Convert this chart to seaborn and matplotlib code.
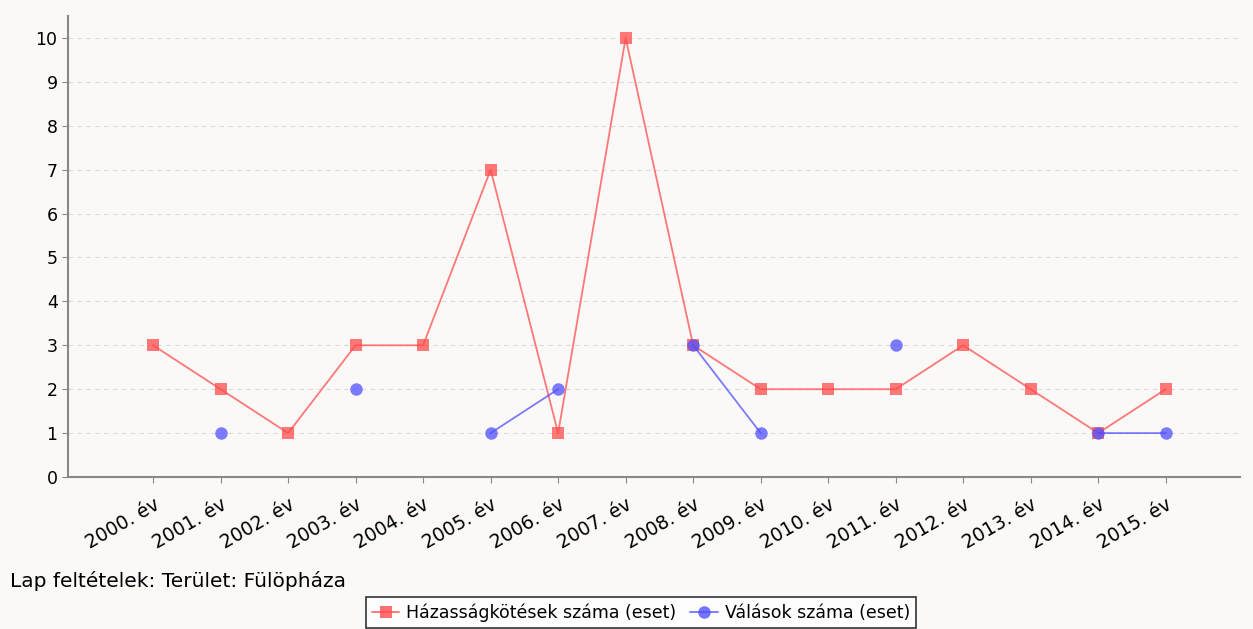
import numpy as np
import pandas as pd
import matplotlib
matplotlib.use("Agg")
import matplotlib.pyplot as plt
import seaborn as sns
from matplotlib.lines import Line2D

years = [f"{y}. év" for y in range(2000, 2016)]
hazassag = [3, 2, 1, 3, 3, 7, 1, 10, 3, 2, 2, 2, 3, 2, 1, 2]
valas = [np.nan, 1, np.nan, 2, np.nan, 1, 2, np.nan, 3, 1, np.nan, 3, np.nan, np.nan, 1, 1]
series_names = ["Házasságkötések száma (eset)", "Válások száma (eset)"]

sns.set_style("white")
plt.rcParams['font.family'] = ['DejaVu Sans']
plt.rcParams['text.color'] = 'black'
plt.rcParams['xtick.color'] = 'black'
plt.rcParams['ytick.color'] = 'black'

bg = "#faf9f8"
fig = plt.figure(figsize=(12.53, 6.29), dpi=100, facecolor=bg)
ax = fig.add_axes([68/1253, 1-477/629, (1240-68)/1253, (477-16)/629])
ax.set_facecolor(bg)

x = np.arange(len(years))
red = "#ff4c4c"
blue = "#5050ff"
sns.lineplot(x=x, y=hazassag, ax=ax, color=red, alpha=0.75, lw=1.3,
             marker="s", markersize=9, markeredgewidth=0, legend=False)
# blue series: lines only between consecutive years with values (NaN breaks)
ax.plot(x, pd.Series(valas).values, color=blue, alpha=0.75, lw=1.3, marker="o",
        markersize=9, markeredgewidth=0)

ax.set_xlim(-1.26, 16.1)
ax.set_ylim(0, 10.5)
ax.set_yticks(range(0, 11))
ax.set_xticks(x)
ax.set_xticklabels(years, rotation=30, ha="right", rotation_mode="anchor", fontsize=13.5)
ax.tick_params(axis="y", labelsize=12.5, length=4, color="#888888", direction="out", left=True)
ax.tick_params(axis="x", length=4, color="#888888", direction="out", bottom=True, pad=9)
ax.yaxis.grid(True, color="#dadada", linestyle=(0, (4, 4)), lw=0.8)
ax.xaxis.grid(False)
for s in ["top", "right"]:
    ax.spines[s].set_visible(False)
for s in ["left", "bottom"]:
    ax.spines[s].set_color("#888888")
    ax.spines[s].set_linewidth(1.5)

handles = [Line2D([], [], color=red, alpha=0.8, marker="s", markersize=9, markeredgewidth=0, lw=1.3),
           Line2D([], [], color=blue, alpha=0.8, marker="o", markersize=9, markeredgewidth=0, lw=1.3)]
leg = fig.legend(handles, series_names, loc="upper center", bbox_to_anchor=(641/1253, 1-597/629),
                 ncol=2, frameon=True, fancybox=False, fontsize=12.5, handlelength=1.6,
                 handletextpad=0.4, columnspacing=0.8, borderpad=0.35, borderaxespad=0)
leg.get_frame().set_edgecolor("black")
leg.get_frame().set_linewidth(1.2)
leg.get_frame().set_facecolor("white")

fig.text(10/1253, 1-581/629, "Lap feltételek: Terület: Fülöpháza", fontsize=14.5,
         va="center", ha="left")

fig.savefig("out.png", dpi=100, facecolor=bg)
